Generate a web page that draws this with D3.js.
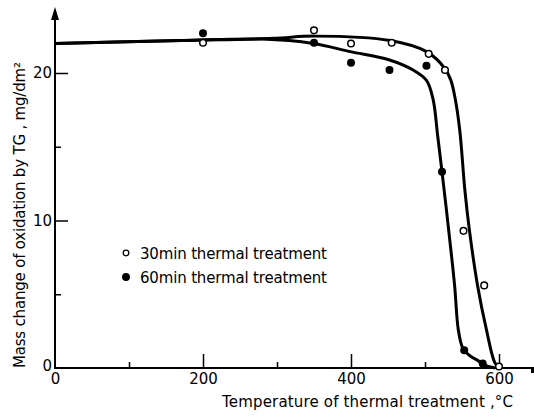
<!DOCTYPE html>
<html>
<head>
<meta charset="utf-8">
<script src="https://cdn.jsdelivr.net/npm/d3@7"></script>
<style>
  body { margin: 0; background: #fff; }
  svg { display: block; font-family: "DejaVu Sans", sans-serif; }
</style>
</head>
<body>
<div id="chart"></div>
<script>
/* Measured points */
const temps30 = [200, 350, 400, 455, 505, 527, 552, 580, 600];
const mass30 = [22.05, 22.9, 22.0, 22.05, 21.3, 20.2, 9.3, 5.6, 0.1];
const temps60 = [200, 350, 400, 452, 502, 523, 553, 578];
const mass60 = [22.7, 22.05, 20.7, 20.2, 20.5, 13.3, 1.2, 0.3];

/* Hand-drawn fit curves */
const curveT30 = [0, 170, 295, 351, 453, 502, 527, 535, 541, 547, 554, 560, 571, 583, 594, 600];
const curveM30 = [22.0, 22.2, 22.35, 22.5, 22.2, 21.45, 20.3, 19.5, 18.2, 16.1, 12.0, 9.35, 5.6, 2.6, 0.4, 0];
const curveT60 = [0, 170, 280, 349, 399, 451, 484, 502, 511, 517, 523, 532, 540, 545, 551, 560, 570, 581, 595];
const curveM60 = [22.0, 22.2, 22.3, 22.0, 21.45, 20.9, 20.2, 19.5, 18.2, 15.8, 13.3, 9.35, 5.6, 2.6, 1.35, 0.85, 0.55, 0.2, 0];

/* Axis ticks and labels */
const xMajor = [0, 200, 400, 600];
const xMinor = [100, 300, 500];
const yMajor = [0, 10, 20];
const yMinor = [5, 15];
const legendLabels = ["30min thermal treatment", "60min thermal treatment"];
const xTitle = "Temperature of thermal treatment ,\u00B0C";
const yTitle = "Mass change of oxidation by TG , mg/dm\u00B2";

const W = 534, H = 416;
const x0 = 55, y0 = 368;

const svg = d3.select("#chart").append("svg")
    .attr("width", W)
    .attr("height", H);

const x = d3.scaleLinear().domain([0, 600]).range([x0, 499]);
const y = d3.scaleLinear().domain([0, 20]).range([y0, 73]);

/* Axis lines with arrow ends */
svg.append("line")
    .attr("x1", x0).attr("y1", y0 + 1)
    .attr("x2", x0).attr("y2", 16)
    .attr("stroke", "#000").attr("stroke-width", 2);
svg.append("path")
    .attr("d", "M" + x0 + ",7 L" + (x0 - 4) + ",20 L" + (x0 + 4) + ",20 Z")
    .attr("fill", "#000");
svg.append("line")
    .attr("x1", x0 - 1).attr("y1", y0)
    .attr("x2", 532).attr("y2", y0)
    .attr("stroke", "#000").attr("stroke-width", 1.8);
svg.append("rect")
    .attr("x", 531).attr("y", y0 - 1)
    .attr("width", 3).attr("height", 6)
    .attr("fill", "#000");

/* Ticks: major ticks with labels, short minor ticks */
function styleAxis(g) {
    g.select(".domain").remove();
    g.selectAll("line").attr("stroke", "#000").attr("stroke-width", 1.5);
    g.selectAll("text").attr("font-size", 15).attr("fill", "#000")
        .attr("font-family", "DejaVu Sans, sans-serif");
}

svg.append("g")
    .attr("transform", "translate(0," + y0 + ")")
    .call(d3.axisBottom(x).tickValues(xMajor).tickSizeInner(-14).tickSizeOuter(0)
        .tickPadding(5).tickFormat(d3.format("d")))
    .call(styleAxis)
    .call(g => g.selectAll(".tick").filter(d => d === 0).select("line").remove());

svg.append("g")
    .attr("transform", "translate(0," + y0 + ")")
    .call(d3.axisBottom(x).tickValues(xMinor).tickSizeInner(-6).tickSizeOuter(0).tickFormat(""))
    .call(styleAxis);

svg.append("g")
    .attr("transform", "translate(" + x0 + ",0)")
    .call(d3.axisLeft(y).tickValues(yMajor).tickSizeInner(-13).tickSizeOuter(0)
        .tickPadding(3).tickFormat(d3.format("d")))
    .call(styleAxis)
    .call(g => g.selectAll(".tick").filter(d => d === 0).select("line").remove())
    .call(g => g.selectAll(".tick").filter(d => d === 0).select("text").attr("dy", "0.15em"));

svg.append("g")
    .attr("transform", "translate(" + x0 + ",0)")
    .call(d3.axisLeft(y).tickValues(yMinor).tickSizeInner(-6).tickSizeOuter(0).tickFormat(""))
    .call(styleAxis);

/* Fit curves */
const line = d3.line()
    .x(d => x(d[0]))
    .y(d => y(d[1]))
    .curve(d3.curveCatmullRom.alpha(0.5));

[[curveT30, curveM30], [curveT60, curveM60]].forEach(function (c) {
    svg.append("path")
        .datum(d3.zip(c[0], c[1]))
        .attr("d", line)
        .attr("fill", "none")
        .attr("stroke", "#000")
        .attr("stroke-width", 3)
        .attr("stroke-linejoin", "round");
});

/* Points */
svg.append("g").selectAll("circle")
    .data(d3.zip(temps30, mass30))
    .join("circle")
    .attr("cx", d => x(d[0]))
    .attr("cy", d => y(d[1]))
    .attr("r", 3.3)
    .attr("fill", "#fff")
    .attr("stroke", "#000")
    .attr("stroke-width", 1.5);

svg.append("g").selectAll("circle")
    .data(d3.zip(temps60, mass60))
    .join("circle")
    .attr("cx", d => x(d[0]))
    .attr("cy", d => y(d[1]))
    .attr("r", 4)
    .attr("fill", "#000");

/* Legend */
const legend = svg.append("g").attr("font-size", 15);
legendLabels.forEach(function (label, i) {
    const cy = 253 + i * 24;
    legend.append("circle")
        .attr("cx", 126).attr("cy", cy)
        .attr("r", i === 0 ? 2.8 : 3.3)
        .attr("fill", i === 0 ? "#fff" : "#000")
        .attr("stroke", "#000").attr("stroke-width", 1.3);
    legend.append("text")
        .attr("x", 140).attr("y", cy + 5.5)
        .attr("textLength", 187)
        .text(label);
});

/* Axis titles */
svg.append("text")
    .attr("x", 222).attr("y", 407)
    .attr("font-size", 15)
    .attr("textLength", 291)
    .text(xTitle);

svg.append("text")
    .attr("transform", "translate(25,368) rotate(-90)")
    .attr("font-size", 15)
    .attr("textLength", 306)
    .text(yTitle);
</script>
</body>
</html>
